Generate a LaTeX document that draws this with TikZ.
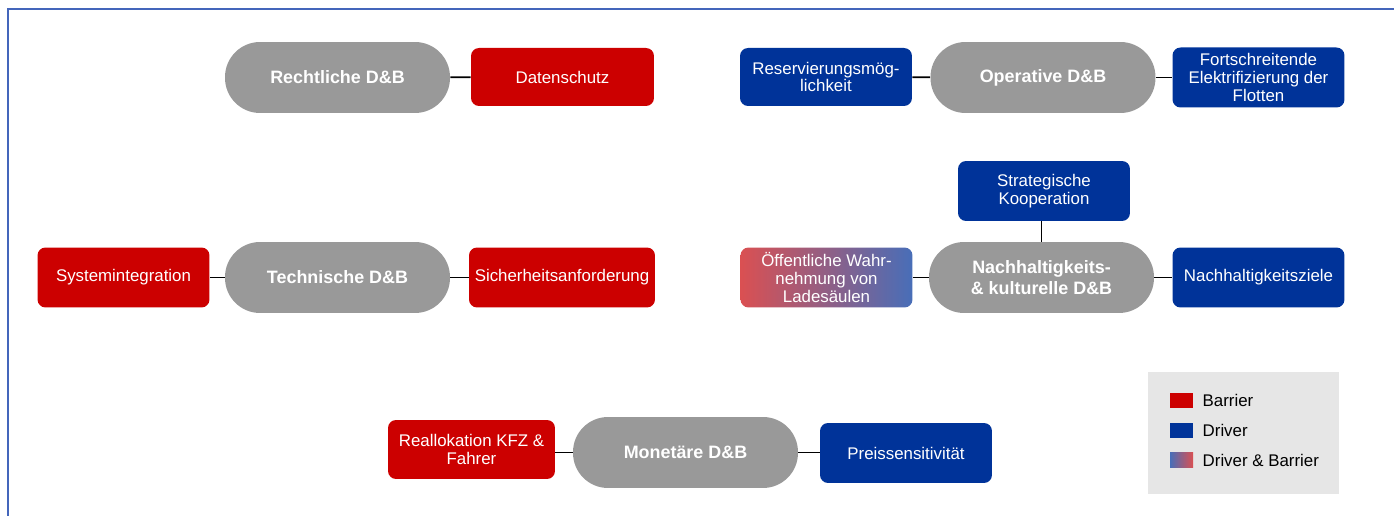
\documentclass[tikz,border=0pt]{standalone}
\usepackage{fontspec}
\setmainfont{Liberation Sans}
\usetikzlibrary{positioning}

\definecolor{barrierred}{RGB}{204,0,0}
\definecolor{driverblue}{RGB}{0,51,153}
\definecolor{pillgray}{RGB}{153,153,153}
\definecolor{mixred}{RGB}{218,80,82}
\definecolor{mixblue}{RGB}{72,110,184}
\definecolor{frameblue}{RGB}{68,102,187}
\definecolor{legendbg}{RGB}{230,230,230}

\begin{document}
\begin{tikzpicture}[
  x=0.02cm, y=-0.02cm,
  category/.style={rectangle, rounded corners=0.7cm, fill=pillgray, text=white, minimum width=4.5cm, minimum height=1.42cm, align=center, inner sep=0pt, font=\fontsize{10.2}{12.2}\selectfont\bfseries},
  factor/.style={rectangle, rounded corners=0.16cm, text=white, minimum width=3.44cm, minimum height=1.2cm, align=center, inner sep=1pt, font=\fontsize{9.6}{10}\selectfont},
  barrier/.style={factor, fill=barrierred},
  driver/.style={factor, fill=driverblue},
  mixed/.style={factor, left color=mixred, right color=mixblue},
  link/.style={draw=black, line width=1pt},
  keybox/.style={rectangle, minimum width=0.46cm, minimum height=0.3cm, inner sep=0pt},
  key/.style={font=\fontsize{9.6}{11}\selectfont, inner sep=0pt, anchor=west}
]
\useasboundingbox (0,0) rectangle (1394,516);

% Frame
\draw[frameblue, line width=1pt] (1394,9) -- (8,9) -- (8,516);

% Categories
\node[category] (recht) at (337.5,77.5) {Rechtliche D\&B};
\node[category] (oper) at (1043,77.5) {Operative D\&B};
\node[category] (tech) at (337.5,277.5) {Technische D\&B};
\node[category] (nach) at (1041.5,277.5) {Nachhaltigkeits-\\\& kulturelle D\&B};
\node[category] (mon) at (685.5,452.5) {Monetäre D\&B};

% Drivers and barriers
\node[barrier, minimum width=3.66cm, minimum height=1.16cm] (daten) at (562.5,77) {Datenschutz};
\node[driver, minimum height=1.16cm] (reserv) at (826,77) {Reservierungsmög-\\lichkeit};
\node[driver] (fort) at (1258.5,77.5) {Fortschreitende\\Elektrifizierung der\\Flotten};
\node[driver] (strat) at (1044,191) {Strategische\\Kooperation};
\node[mixed] (oeff) at (826.5,277.5) {Öffentliche Wahr-\\nehmung von\\Ladesäulen};
\node[driver] (nziel) at (1258.5,277.5) {Nachhaltigkeitsziele};
\node[barrier] (sys) at (123.5,277.5) {Systemintegration};
\node[barrier, minimum width=3.72cm] (sich) at (562,277.5) {Sicherheitsanforderung};
\node[barrier, minimum width=3.34cm, minimum height=1.18cm] (real) at (471.5,449.5) {Reallokation KFZ \&\\Fahrer};
\node[driver] (preis) at (906,453) {Preissensitivität};

% Links
\draw[link] (recht) -- (daten);
\draw[link] (reserv) -- (oper);
\draw[link] (oper) -- (fort);
\draw[link] (nach.north) -- (nach.north |- strat.south);
\draw[link] (oeff) -- (nach);
\draw[link] (nach) -- (nziel);
\draw[link] (sys) -- (tech);
\draw[link] (tech) -- (sich);
\draw[link] (mon.west) -- (mon.west -| real.east);
\draw[link] (mon.east) -- (mon.east -| preis.west);

% Legend
\node[fill=legendbg, minimum width=3.82cm, minimum height=2.44cm, inner sep=0pt] (legend) at (1243.5,433) {};
\node[keybox, fill=barrierred] (keybar) at (1181.5,400.5) {};
\node[keybox, fill=driverblue] (keydrv) at (1181.5,430.5) {};
\node[keybox, left color=mixblue, right color=mixred] (keymix) at (1181.5,460.5) {};
\node[key, right=0.18cm of keybar] (txtbar) {Barrier};
\node[key, right=0.18cm of keydrv] (txtdrv) {Driver};
\node[key, right=0.18cm of keymix] (txtmix) {Driver \& Barrier};

\end{tikzpicture}
\end{document}
